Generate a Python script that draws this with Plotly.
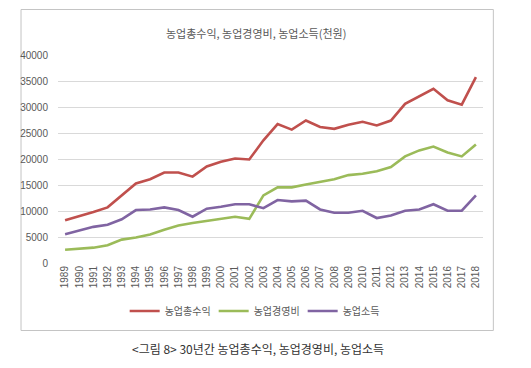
import plotly.graph_objects as go

years = [str(y) for y in range(1989, 2019)]
total_revenue = [8200, 8950, 9800, 10700, 13000, 15300, 16100, 17400, 17400, 16600,
                 18550, 19450, 20100, 19900, 23600, 26700, 25650, 27400, 26150, 25800,
                 26600, 27150, 26450, 27400, 30600, 32000, 33500, 31300, 30450, 35750]
operating_cost = [2550, 2700, 2950, 3400, 4500, 4900, 5500, 6400, 7200, 7700,
                  8100, 8500, 8900, 8500, 13000, 14550, 14550, 15100, 15600, 16100,
                  16900, 17150, 17650, 18450, 20500, 21650, 22400, 21250, 20500, 22800]
farm_income = [5550, 6200, 6950, 7350, 8400, 10180, 10300, 10700, 10200, 8900,
               10450, 10800, 11300, 11300, 10550, 12100, 11850, 12000, 10300, 9670,
               9670, 10050, 8650, 9150, 10050, 10300, 11300, 10050, 10050, 13000]
series_names = ["농업총수익", "농업경영비", "농업소득"]
colors = ["#C0504D", "#9BBB59", "#8064A2"]
y_ticks = [0, 5000, 10000, 15000, 20000, 25000, 30000, 35000, 40000]

FONT = "Liberation Sans, Noto Sans CJK KR, sans-serif"
KFONT = "Noto Sans CJK KR, Liberation Sans, sans-serif"

fig = go.Figure()
for name, vals, c in zip(series_names, [total_revenue, operating_cost, farm_income], colors):
    fig.add_trace(go.Scatter(x=years, y=vals, name=name, mode="lines",
                             line=dict(color=c, width=2.6)))

# page body has an 8px default margin; work in window pixels and offset
OFF = 8
W, H = 531 - OFF, 368 - OFF
PL, PR, PT, PB = 52, 483, 55, 263  # plot area in window pixels
L, R, T, B = PL - OFF, W - (PR - OFF), PT - OFF, H - (PB - OFF)
pw, ph = W - L - R, H - T - B

def px_x(px):
    return (px - PL) / pw

def px_y(py):
    return (PB - py) / ph

fig.update_layout(
    width=W, height=H,
    margin=dict(l=L, r=R, t=T, b=B),
    paper_bgcolor="white", plot_bgcolor="white",
    font=dict(family=FONT, color="#595959", size=10),
    showlegend=True,
    legend=dict(orientation="h", x=px_x(255), xanchor="center", y=px_y(311), yanchor="middle",
                font=dict(family=KFONT, size=10, color="#595959"), itemwidth=30,
                entrywidth=44, bgcolor="rgba(0,0,0,0)"),
    xaxis=dict(type="category", tickangle=-90, showgrid=False, zeroline=False,
               showline=False, ticks="", tickfont=dict(size=10, color="#595959"),
               range=[-0.5, 29.5]),
    yaxis=dict(range=[0, 40000], tickvals=y_ticks, ticktext=[str(v) for v in y_ticks],
               showgrid=True, gridcolor="#D9D9D9", gridwidth=1, zeroline=False,
               ticks="outside", ticklen=7, tickcolor="rgba(0,0,0,0)",
               tickfont=dict(size=10, color="#595959")),
    annotations=[
        dict(text="농업총수익, 농업경영비, 농업소득(천원)", xref="paper", yref="paper",
             x=px_x(253), y=px_y(33), xanchor="center", yanchor="middle", showarrow=False,
             font=dict(family=KFONT, size=11, color="#595959")),
        dict(text="<그림 8> 30년간 농업총수익, 농업경영비, 농업소득", xref="paper", yref="paper",
             x=px_x(255), y=px_y(348), xanchor="center", yanchor="middle", showarrow=False,
             font=dict(family=KFONT, size=12, color="#333333")),
    ],
)
# chart-area frame
fig.add_shape(type="rect", xref="paper", yref="paper",
              x0=px_x(14.5), x1=px_x(493.5), y0=px_y(330.5), y1=px_y(9.5),
              line=dict(color="#C4C4C4", width=1), fillcolor="rgba(0,0,0,0)", layer="below")

fig.write_html("out.html")
